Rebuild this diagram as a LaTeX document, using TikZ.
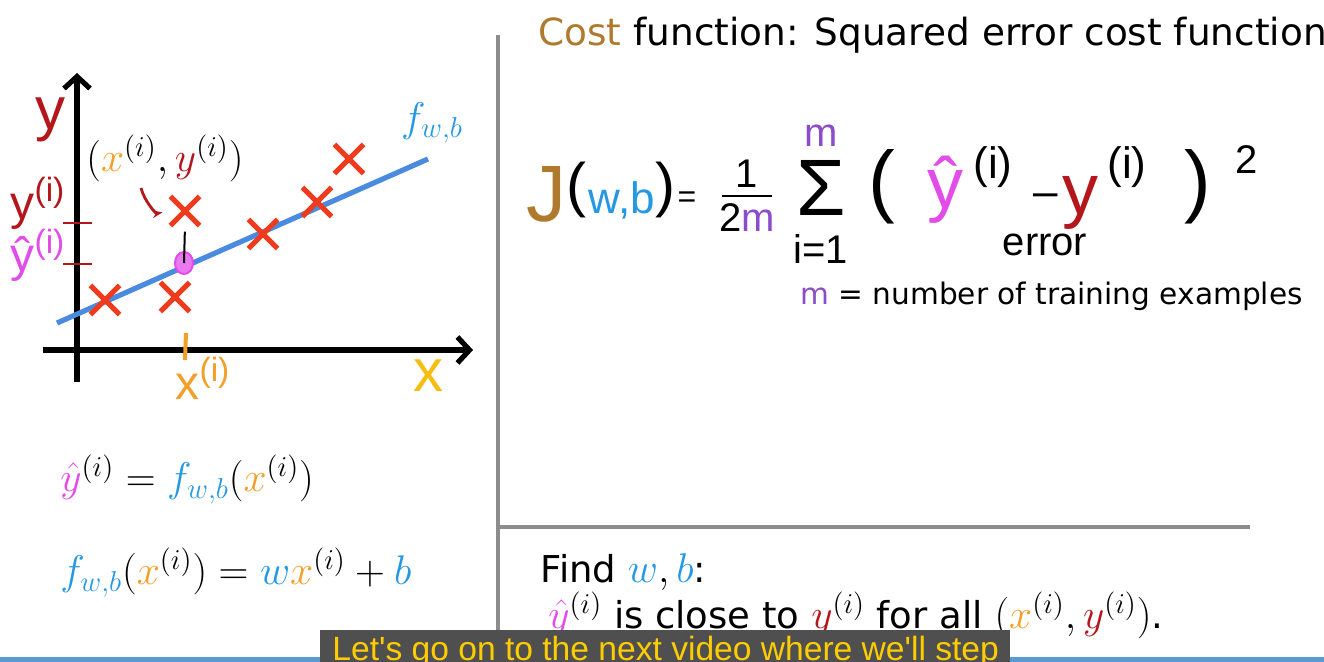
\documentclass[tikz,border=0pt]{standalone}
\usepackage{fontspec}
\setmainfont{DejaVu Sans}
\newfontfamily\handfont{Liberation Sans}
\usetikzlibrary{positioning,arrows.meta,shapes.misc,shapes.geometric}

\definecolor{costbrown}{HTML}{B07A2E}
\definecolor{fblue}{HTML}{2498E2}
\definecolor{lineblue}{HTML}{4A8BE0}
\definecolor{hatmag}{HTML}{E24CE8}
\definecolor{ydark}{HTML}{B3161B}
\definecolor{crossred}{HTML}{EE3B1E}
\definecolor{xorange}{HTML}{F2A02A}
\definecolor{axisyellow}{HTML}{F5BE10}
\definecolor{mpurple}{HTML}{8A4CC8}
\definecolor{divgray}{HTML}{8C8C8C}
\definecolor{subgray}{HTML}{4F4F4F}
\definecolor{subyellow}{HTML}{FFCC00}
\definecolor{barblue}{HTML}{5B9BD5}

\newcommand{\fsz}[1]{\fontsize{#1}{#1}\selectfont}
\newcommand{\predy}{\textcolor{hatmag}{\hat{y}}}
\newcommand{\truey}{\textcolor{ydark}{y}}
\newcommand{\featx}{\textcolor{xorange}{x}}
\newcommand{\fwb}{\textcolor{fblue}{f_{w,b}}}

\begin{document}
\begin{tikzpicture}[
  x=0.5pt, y=-0.5pt,
  >={Stealth[length=5pt]},
  hand/.style={font=\handfont\fsz{#1}, inner sep=0pt},
  txt/.style={font=\fsz{#1}, inner sep=0pt},
  datapt/.style={cross out, draw=crossred, line width=2.6pt, minimum size=12pt, inner sep=0pt},
  axis/.style={line width=2.6pt, -{Straight Barb[length=6pt, width=13pt, line width=2.6pt]}},
  ticky/.style={draw=ydark, line width=1.2pt},
  divider/.style={draw=divgray, line width=1.6pt},
]
  \useasboundingbox (0,0) rectangle (1324,662);
  \fill[white] (0,0) rectangle (1324,662);

  % Dividers
  \draw[divider] (498,35) -- (498,645);
  \draw[divider] (498,527) -- (1250,527);

  % Axes
  \coordinate (xs) at (43,350);
  \coordinate (xe) at (473,350);
  \coordinate (ys) at (77,382);
  \coordinate (ye) at (77,73);
  \draw[axis] (xs) -- (xe);
  \draw[axis] (ys) -- (ye);
  \node[hand=30, text=ydark] (ylab) at (50,120) {y};
  \node[hand=30, text=axisyellow] (xlab) at (428,376) {x};

  % Ticks
  \draw[ticky] (63,223) -- (92,223);
  \draw[ticky] (63,264) -- (92,264);
  \draw[xorange, line width=2pt] (186,333) -- (185,360);
  \node[hand=24, text=ydark] (yilab) at (38,203) {y\textsuperscript{(i)}};
  \node[hand=24, text=hatmag] (yhlab) at (38,255) {ŷ\textsuperscript{(i)}};
  \node[hand=24, text=xorange] (xilab) at (203,378) {x\textsuperscript{(i)}};

  % Model line
  \coordinate (l0) at (57,323);
  \coordinate (l1) at (428,159);
  \draw[lineblue, line width=2.6pt] (l0) -- (l1);
  \node[txt=20, text=fblue] (flab) at (432,123) {$f_{w,b}$};

  % Training examples
  \node[datapt] (p1) at (105,300) {};
  \node[datapt] (p2) at (175,297) {};
  \node[datapt] (p3) at (185,211) {};
  \node[datapt] (p4) at (263,234) {};
  \node[datapt] (p5) at (317,202) {};
  \node[datapt] (p6) at (349,159) {};

  % Prediction on the line
  \node[ellipse, fill=hatmag!75, draw=hatmag, line width=1pt, minimum width=9pt, minimum height=11pt, inner sep=0pt] (yh) at (184,263) {};
  \draw[line width=1pt, shorten <=3pt] (p3.south) -- (yh.center);

  % Example label
  \node[txt=20] (pair) at (165,158) {$(\featx^{(i)},\truey^{(i)})$};
  \coordinate (arrs) at (141,188);
  \draw[->, ydark, line width=1.4pt, shorten >=4pt] (arrs) to[out=-75, in=190] (p3.west);

  % Model equations
  \node[txt=22, anchor=base west] (pred) at (60,492) {$\predy^{(i)} = \fwb\Big(\featx^{(i)}\Big)$};
  \node[txt=22, anchor=base west] (model) at (60,585) {$\fwb\Big(\featx^{(i)}\Big) = \textcolor{fblue}{w}\featx^{(i)} + \textcolor{fblue}{b}$};

  % Cost function title
  \node[txt=18.7, anchor=base west] (title) at (538,46) {\textcolor{costbrown}{Cost} function: Squared error cost function};

  % Cost function formula
  \node[hand=40, text=costbrown] (jlab) at (546,194) {J};
  \node[hand=30] (lp1) at (576,190) {(};
  \node[hand=22, text=fblue] (wb) at (622,200) {w,b};
  \node[hand=30] (rp1) at (665,190) {)};
  \node[hand=16] (eq) at (687,200) {=};
  \node[hand=20] (one) at (747,174) {1};
  \draw[line width=1pt] (722,196) -- (772,196);
  \node[hand=20] (twom) at (747,218) {2\textcolor{mpurple}{m}};
  \node[hand=40] (sig) at (821,188) {Σ};
  \node[hand=20, text=mpurple] (mtop) at (821,136) {m};
  \node[hand=20] (ione) at (821,249) {i=1};
  \node[hand=40] (lp2) at (882,187) {(};
  \node[hand=36, text=hatmag] (yhat) at (945,190) {ŷ};
  \node[hand=22] (yhi) at (993,167) {(i)};
  \node[hand=22] (minus) at (1046,200) {–};
  \node[hand=36, text=ydark] (ytrue) at (1080,203) {y};
  \node[hand=22] (yti) at (1127,167) {(i)};
  \node[hand=40] (rp2) at (1198,187) {)};
  \node[hand=20] (sq) at (1247,160) {2};
  \node[hand=20] (err) at (1045,245) {error};
  \node[txt=14.8, anchor=base west] (mdef) at (800,305) {\textcolor{mpurple}{m} = number of training examples};

  % Goal
  \node[txt=18.5, anchor=base west] (find) at (540,583) {Find {\fsz{21}$\textcolor{fblue}{w},\textcolor{fblue}{b}$}:};
  \node[txt=18.5, anchor=base west] (close) at (548,629) {{\fsz{21}$\predy^{(i)}$} is close to {\fsz{21}$\truey^{(i)}$} for all {\fsz{21}$(\featx^{(i)},\truey^{(i)})$}.};

  % Subtitle
  \fill[barblue] (0,657) rectangle (1324,662);
  \fill[subgray] (320,630) rectangle (1010,662);
  \node[hand=16.8, text=subyellow, anchor=base west] (sub) at (332,661) {Let's go on to the next video where we'll step};
\end{tikzpicture}
\end{document}
